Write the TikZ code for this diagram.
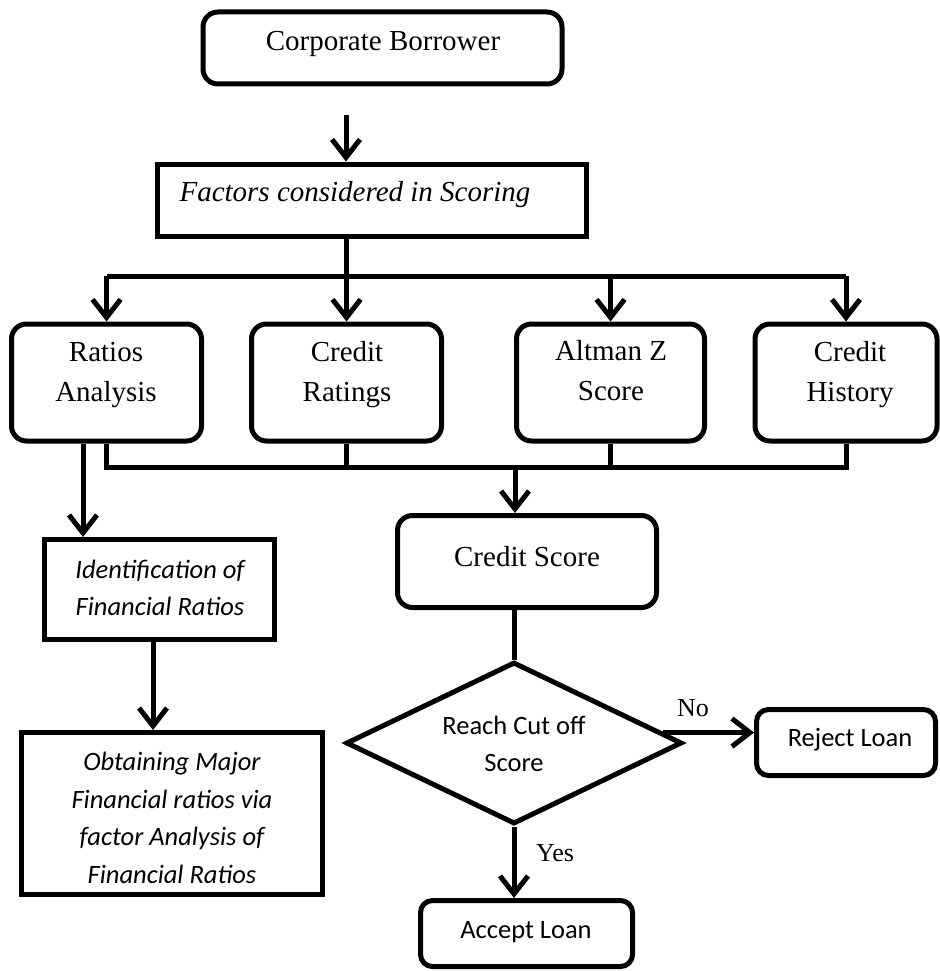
\documentclass[tikz,border=0pt]{standalone}
\usepackage{fontspec}
\setmainfont{Liberation Serif}
\newfontfamily\calfont{Carlito}
\usetikzlibrary{arrows.meta,shapes.geometric}
\begin{document}
\begin{tikzpicture}[x=1pt,y=-1pt,
  box/.style={draw, line width=5pt, rounded corners=15pt, inner sep=0pt},
  sqbox/.style={draw, line width=5pt, inner sep=0pt},
  tms/.style={font=\fontsize{29}{40}\selectfont, align=center, inner sep=0pt},
  lab/.style={font=\fontsize{26}{30}\selectfont, inner sep=0pt},
  cal/.style={font=\calfont\fontsize{26.5}{37}\selectfont, align=center, inner sep=0pt},
  ln/.style={line width=5pt},
  arr/.style={line width=5pt, -{Straight Barb[length=18pt,width=28pt]}},
]
\fill[white] (0,0) rectangle (939,971);
\useasboundingbox (0,0) rectangle (939,971);

% boxes
\node[box, minimum width=359pt, minimum height=72pt] (cb) at (382.5,48) {};
\node[tms] (cbT) at (383,44) {Corporate Borrower};

\node[sqbox, minimum width=429pt, minimum height=72pt] (fac) at (371.5,200) {};
\node[tms, font=\fontsize{29}{40}\selectfont\itshape] (facT) at (355,195) {Factors considered in Scoring};

\node[box, minimum width=190pt, minimum height=117pt] (ra) at (106.5,382.5) {};
\node[box, minimum width=190pt, minimum height=117pt] (cr) at (346.5,382.5) {};
\node[box, minimum width=188pt, minimum height=117pt] (az) at (610.5,382.5) {};
\node[box, minimum width=182pt, minimum height=117pt] (ch) at (846,382.5) {};
\node[tms] (raT) at (106,375) {Ratios\\Analysis};
\node[tms] (crT) at (347,375) {Credit\\Ratings};
\node[tms] (azT) at (611,371) {Altman Z\\Score};
\node[tms] (chT) at (850,375) {Credit\\History};

\node[box, minimum width=259pt, minimum height=92pt] (cs) at (527,561.5) {};
\node[tms] (csT) at (527,557) {Credit Score};

\node[sqbox, minimum width=230pt, minimum height=100pt] (id) at (159.5,589.5) {};
\node[cal, font=\calfont\fontsize{26.5}{37}\selectfont\itshape] (idT) at (160,588) {Identification of\\Financial Ratios};

\node[sqbox, minimum width=301pt, minimum height=162pt] (ob) at (172,813.5) {};
\node[cal, font=\calfont\fontsize{26.5}{37.5}\selectfont\itshape] (obT) at (172,818) {Obtaining Major\\Financial ratios via\\factor Analysis of\\Financial Ratios};

\node[draw, diamond, line width=5pt, inner sep=0pt, minimum width=336pt, minimum height=162pt] (dia) at (514,743) {};
\node[cal] (diaT) at (514,744) {Reach Cut off\\Score};

\node[box, rounded corners=12pt, minimum width=179pt, minimum height=66pt] (rj) at (846,742.5) {};
\node[cal] (rjT) at (850,740) {Reject Loan};

\node[box, rounded corners=12pt, minimum width=212pt, minimum height=66pt] (ac) at (526.5,933.5) {};
\node[cal] (acT) at (526,932) {Accept Loan};

% helper coordinates
\coordinate (a1) at (346,115);
\coordinate (bus1) at (0,276);
\coordinate (bus2) at (0,467);
\coordinate (b2m) at (515,467);
\coordinate (k1) at (83,0);
\coordinate (k2) at (153,0);

% connectors
\draw[arr] (a1) -- (a1 |- fac.north);
\draw[ln] (a1 |- fac.south) -- (a1 |- bus1);
\draw[ln] (ra.north |- bus1) -- (ch.north |- bus1);
\draw[arr] (ra.north |- bus1) -- (ra.north);
\draw[arr] (cr.north |- bus1) -- (cr.north);
\draw[arr] (az.north |- bus1) -- (az.north);
\draw[arr] (ch.north |- bus1) -- (ch.north);

\draw[ln] (ra.south) -- (ra.south |- bus2) -- (ch.south |- bus2) -- (ch.south);
\draw[ln] (cr.south) -- (cr.south |- bus2);
\draw[ln] (az.south) -- (az.south |- bus2);
\draw[arr] (b2m) -- (b2m |- cs.north);

\draw[arr] (k1 |- ra.south) -- (k1 |- id.north);
\draw[arr] (k2 |- id.south) -- (k2 |- ob.north);

\draw[ln] (dia.north |- cs.south) -- (dia.north);
\draw[arr] (dia.4) -- (dia.4 -| rj.west);
\draw[arr] (dia.south) -- (dia.south |- ac.north);

\node[lab] (no) at (693,708) {No};
\node[lab] (yes) at (555,853) {Yes};
\end{tikzpicture}
\end{document}
